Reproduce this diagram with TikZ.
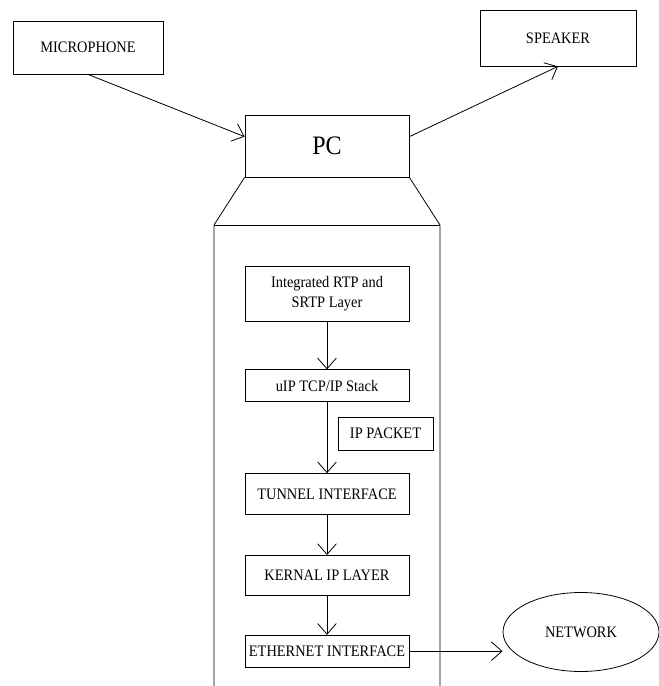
\documentclass[tikz,border=0pt]{standalone}
\usepackage{fontspec}
\setmainfont{Liberation Serif}[FakeStretch=0.9]
\usetikzlibrary{positioning, shapes.geometric, arrows.meta}

\begin{document}
\begin{tikzpicture}[x=0.75pt, y=-0.75pt, line width=0.6pt, font=\fontsize{12}{13}\selectfont]

    \useasboundingbox (0,0) rectangle (659,686); % same size as the reference, in px

    % boxes: devices on top, the layer stack inside the PC
    \begin{scope}[every node/.style={draw, rectangle, inner sep=1pt, align=center},
                  dev/.style={minimum width=112.5pt, minimum height=39.75pt},
                  lay/.style={minimum width=123pt},
                  arr/.style={-{Straight Barb[length=8pt, width=14pt]}}]

    \node [dev] (mic) at (88,47.5) {MICROPHONE};
    \node [dev, minimum width=117pt, minimum height=42pt] (spk) at (558,38) {SPEAKER};
    \node [minimum width=123pt, minimum height=46.5pt, font=\fontsize{20}{22}\selectfont] (pc) at (327,146) {PC};

    \node [lay, minimum height=41.25pt, font=\fontsize{12}{15}\selectfont] (rtp) at (327,293.5) {Integrated RTP and\\SRTP Layer};
    \node [lay, minimum height=24pt, below=36pt of rtp]    (uip) {uIP TCP/IP Stack};
    \node [lay, minimum height=30.75pt, below=53.25pt of uip] (tun) {TUNNEL INTERFACE};
    \node [lay, minimum height=30pt, below=30pt of tun]    (ker) {KERNAL IP LAYER};
    \node [lay, minimum height=24pt, below=29.25pt of ker] (eth) {ETHERNET INTERFACE};
    \node [minimum width=71.25pt, minimum height=24.75pt] (pkt) at (385.5,433.5) {IP PACKET};
    \node [ellipse, minimum width=117pt, minimum height=59.25pt] (net) at (581,632) {NETWORK};

    % the PC body below the screen, open at the bottom
    \coordinate (tl) at (214,225);
    \coordinate (tr) at (440,225);
    \coordinate (bl) at (214,686);
    \coordinate (br) at (440,686);
    \draw (pc.south west) -- (tl) -- (bl);
    \draw (pc.south east) -- (tr) -- (br);
    \draw (tl) -- (tr);

    \draw [arr] (mic.south) -- ([yshift=7pt]pc.west);
    \draw [arr] ([yshift=7pt]pc.east) -- (spk.south);
    \draw [arr] (rtp) -- (uip);
    \draw [arr] (uip) -- (tun);
    \draw [arr] (tun) -- (ker);
    \draw [arr] (ker) -- (eth);
    \draw [arr] (eth.east) -- (eth.east -| net.west);

    \end{scope}

\end{tikzpicture}
\end{document}
